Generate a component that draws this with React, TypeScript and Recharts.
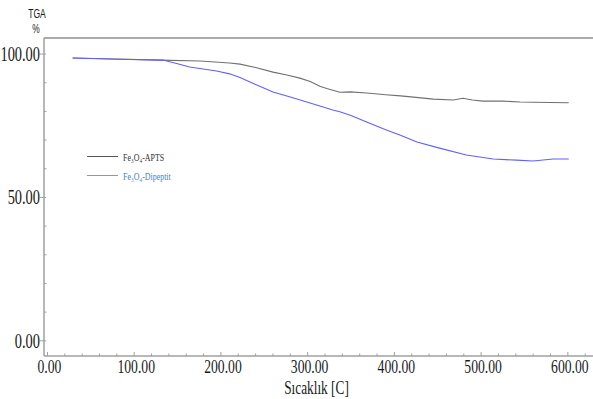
import React from "react";
import { LineChart, Line, XAxis, YAxis, ReferenceLine, Legend, Label } from "recharts";

const aptsTemp = [29, 80, 130, 176, 210, 222, 240, 260, 276, 291, 303, 314, 322, 337, 349, 368, 390, 407, 425, 445, 468, 479, 490, 502, 525, 545, 560, 580, 601];
const aptsVal = [98.6, 98.3, 97.9, 97.6, 96.9, 96.5, 95.3, 93.7, 92.7, 91.6, 90.4, 88.8, 88.0, 86.7, 86.8, 86.4, 85.8, 85.4, 84.9, 84.3, 84.0, 84.6, 84.0, 83.6, 83.6, 83.3, 83.2, 83.1, 83.0];

const dipTemp = [29, 80, 133, 150, 164, 195, 210, 222, 240, 260, 280, 299, 315, 329, 337, 350, 368, 390, 407, 426, 452, 483, 514, 541, 560, 583, 601];
const dipVal = [98.6, 98.2, 97.9, 96.6, 95.5, 94.1, 93.1, 91.8, 89.4, 86.8, 85.0, 83.3, 81.8, 80.5, 79.9, 78.6, 76.3, 73.6, 71.7, 69.3, 67.2, 64.8, 63.4, 63.0, 62.7, 63.4, 63.4];

const xTicks = [0, 20, 40, 60, 80, 100, 120, 140, 160, 180, 200, 220, 240, 260, 280, 300, 320, 340, 360, 380, 400, 420, 440, 460, 480, 500, 520, 540, 560, 580, 600, 620];
const xMajor = [0, 100, 200, 300, 400, 500, 600];
const yTicks = [0, 10, 20, 30, 40, 50, 60, 70, 80, 90, 100];
const yMajor = [0, 50, 100];

const seriesNames = ["Fe₃O₄-APTS", "Fe₃O₄-Dipeptit"];
const xTitle = "Sıcaklık [C]";
const yTitle = ["TGA", "%"];

const aptsData = aptsTemp.map((t, i) => ({ t, v: aptsVal[i] }));
const dipData = dipTemp.map((t, i) => ({ t, v: dipVal[i] }));

const AXIS = "#a0a0a0";
const TEXT = "#1a1a1a";
const SERIF = "'Liberation Serif', 'Times New Roman', serif";
const SANS = "'Liberation Sans', Arial, sans-serif";

const XTick = (props: any) => {
  const { x, y, payload } = props;
  const major = xMajor.includes(payload.value);
  return (
    <g>
      <line x1={x} x2={x} y1={y} y2={y - (major ? 4 : 2.5)} stroke={AXIS} strokeWidth={1} />
      {major && (
        <text
          transform={`translate(${x + 2},${y + 17}) scale(0.72,1)`}
          textAnchor="middle"
          fontSize={19}
          fontFamily={SERIF}
          fill={TEXT}
        >
          {payload.value.toFixed(2)}
        </text>
      )}
    </g>
  );
};

const YTick = (props: any) => {
  const { x, y, payload } = props;
  const major = yMajor.includes(payload.value);
  return (
    <g>
      {major ? (
        <line x1={x - 4} x2={x + 2} y1={y} y2={y} stroke={AXIS} strokeWidth={1} />
      ) : (
        <line x1={x} x2={x + 2.5} y1={y} y2={y} stroke={AXIS} strokeWidth={1} />
      )}
      {major && (
        <text
          transform={`translate(${x - 4},${y + 7}) scale(0.72,1)`}
          textAnchor="end"
          fontSize={20}
          fontFamily={SERIF}
          fill={TEXT}
        >
          {payload.value.toFixed(2)}
        </text>
      )}
    </g>
  );
};

const LegendContent = () => {
  const items = [
    { name: seriesNames[0], line: "#555555", text: "#333333" },
    { name: seriesNames[1], line: "#8a8aff", text: "#3a86d4" },
  ];
  return (
    <div style={{ display: "flex", flexDirection: "column", gap: 0 }}>
      {items.map((it) => (
        <div key={it.name} style={{ display: "flex", alignItems: "center", height: 19 }}>
          <div style={{ width: 31, height: 1, background: it.line }} />
          <span
            style={{
              display: "inline-block",
              marginLeft: 5,
              fontFamily: SERIF,
              fontSize: 11,
              color: it.text,
              transform: "scaleX(0.72)",
              transformOrigin: "left center",
              whiteSpace: "nowrap",
            }}
          >
            {it.name}
          </span>
        </div>
      ))}
    </div>
  );
};

export default function App() {
  return (
    <div style={{ position: "absolute", left: 0, top: 0, background: "#fff" }}>
      <LineChart width={593} height={399} margin={{ top: 38, right: 0, bottom: 0, left: 0 }}>
        <XAxis
          type="number"
          dataKey="t"
          domain={[-4, 629]}
          ticks={xTicks}
          allowDataOverflow
          height={43}
          tickSize={0}
          tickMargin={0}
          tickLine={false}
          tick={<XTick />}
          interval={0}
          axisLine={{ stroke: AXIS, strokeWidth: 1.5 }}
        >
          <Label
            content={(p: any) => {
              const vb = p.viewBox;
              const cx = vb.x + vb.width / 2;
              return (
                <text
                  transform={`translate(${cx - 2},${394}) scale(0.74,1)`}
                  textAnchor="middle"
                  fontSize={18}
                  fontFamily={SERIF}
                  fill={TEXT}
                >
                  {xTitle}
                </text>
              );
            }}
          />
        </XAxis>
        <YAxis
          type="number"
          domain={[-5.3, 105.6]}
          ticks={yTicks}
          allowDataOverflow
          width={44}
          tickSize={0}
          tickMargin={0}
          tickLine={false}
          tick={<YTick />}
          interval={0}
          axisLine={{ stroke: AXIS, strokeWidth: 1.5 }}
        >
          <Label
            content={() => (
              <g>
                <text transform="translate(37,18) scale(0.66,1)" textAnchor="middle" fontSize={13} fontFamily={SANS} fill={TEXT}>
                  {yTitle[0]}
                </text>
                <text transform="translate(36,33) scale(0.7,1)" textAnchor="middle" fontSize={12} fontFamily={SANS} fill={TEXT}>
                  {yTitle[1]}
                </text>
              </g>
            )}
          />
        </YAxis>
        <ReferenceLine y={105.6} stroke="#aaaaaa" strokeWidth={2} ifOverflow="extendDomain" />
        <Legend
          layout="vertical"
          align="center"
          verticalAlign="middle"
          content={<LegendContent />}
          wrapperStyle={{ position: "absolute", left: 87, top: 147, width: 140 }}
        />
        <Line
          data={aptsData}
          dataKey="v"
          name={seriesNames[0]}
          type="linear"
          stroke="#707070"
          strokeWidth={1.1}
          dot={false}
          isAnimationActive={false}
        />
        <Line
          data={dipData}
          dataKey="v"
          name={seriesNames[1]}
          type="linear"
          stroke="#6060fa"
          strokeWidth={1.1}
          dot={false}
          isAnimationActive={false}
        />
      </LineChart>
    </div>
  );
}
